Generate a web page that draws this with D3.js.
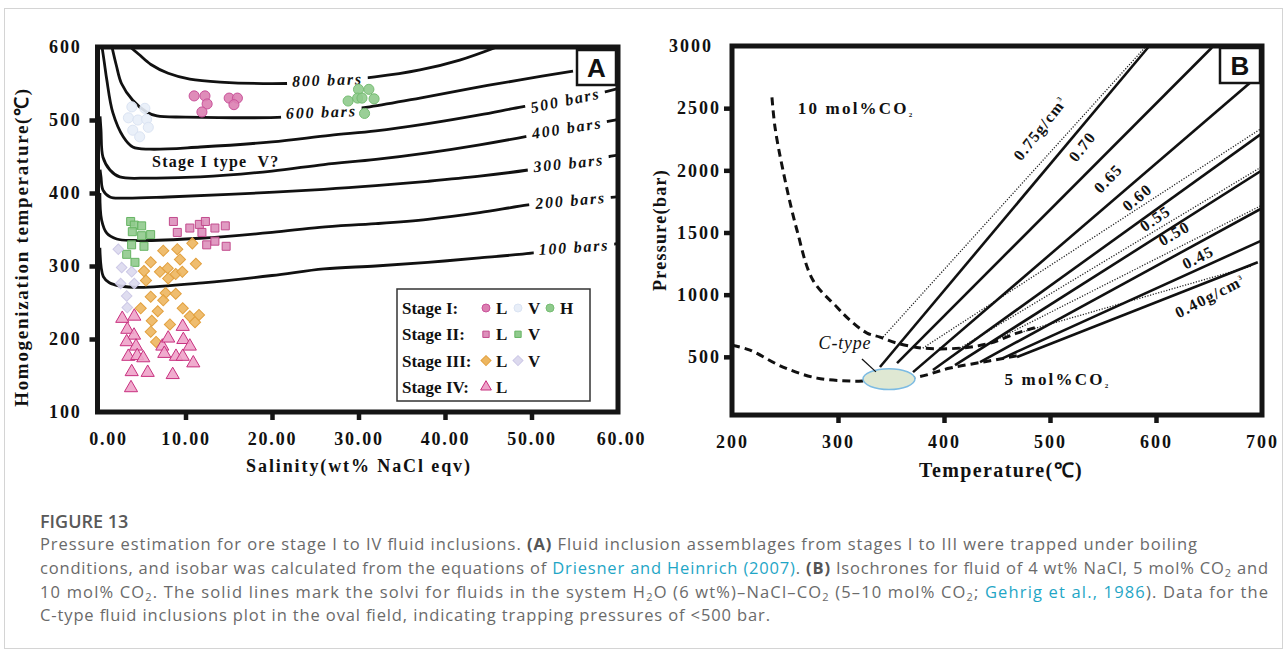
<!DOCTYPE html>
<html>
<head>
<meta charset="utf-8">
<script src="https://cdn.jsdelivr.net/npm/d3@7"></script>
<style>
  body { margin: 0; background: #fff; }
  svg { display: block; }
</style>
</head>
<body>
<svg id="fig" width="1287" height="650"></svg>
<script>
// ---------- Panel A: salinity vs homogenization temperature ----------
const salinityTicks = [0, 10, 20, 30, 40, 50, 60];
const tempTicks = [100, 200, 300, 400, 500, 600];

// isobars, [salinity wt%, temperature °C]
const isobar800 = [[3.6,600],[4.6,590],[6,576],[8,564],[10.5,556],[14,552],[21.7,550],[26,553],[31.9,559],[37.1,568.5],[41.7,582],[46,600]];
const isobar600 = [[1.5,600],[2.0,575],[2.6,550],[3.9,527],[5.5,511],[6.7,505.5],[10,504],[21.3,504],[26,510],[31.3,518],[37.1,530],[42.9,543],[48.7,555],[54.8,567]];
const isobar500 = [[0.35,600],[0.6,580],[0.9,555],[1.6,510],[2.8,477],[3.9,463],[5.9,460],[11.7,463],[20,470],[26.7,479],[32,485],[38,495],[44,507],[48.9,518],[53.9,528],[58.3,538],[60,543]];
const isobar400 = [[0.12,505],[0.23,486],[0.46,449],[1.27,431.5],[2.4,422],[5.9,420.5],[11.7,422],[20,430],[26,439],[32,446],[38,455],[44,466],[49.6,478],[54.1,489],[59.3,499],[60,501]];
const isobar300 = [[0.12,432],[0.23,422],[0.46,404],[1.27,394.5],[2.8,393],[7.9,394.5],[15,398],[26,405],[32,410],[38,416],[44,423],[49.6,431.5],[54.3,441],[59,450],[60,452]];
const isobar200 = [[0.1,400],[0.3,363],[0.9,345],[2.05,337],[3.97,335],[11.7,338],[20,346],[25.5,353],[32,358],[38,364],[44,373],[49.6,383.6],[54.5,390],[59.2,394],[60,395]];
const isobar100 = [[0.1,325],[0.5,285.4],[1.2,277],[2.43,272.6],[4.74,270.8],[12,277],[20,287],[26,296],[32,300],[38,305],[44,311],[50.2,318],[54.9,326],[59.2,329],[60,331]];
const isobarNames = ["800 bars","600 bars","500 bars","400 bars","300 bars","200 bars","100 bars"];
const isobarLines = [isobar800, isobar600, isobar500, isobar400, isobar300, isobar200, isobar100];
// where each isobar name sits on its curve: [salinity, temperature, angle]
const isobarLabelAt = [[26.4,555,-2],[25.7,511,-2],[53.9,527,-12],[54.1,489,-9],[54.3,441,-6],[54.5,390,-5],[54.9,326,-4]];

// fluid inclusions, [salinity wt% NaCl eqv, Th °C]
const stage1L = [[11.0,533],[12.25,533],[12.5,522],[11.9,511],[15.05,530],[16.0,530],[15.6,521]];
const stage1V = [[3.8,518],[5.3,516],[3.4,503],[4.5,500],[5.5,501],[3.9,486],[5.7,490],[4.7,477]];
const stage1H = [[30.0,542],[31.2,542],[28.8,526],[29.9,530],[30.4,530],[31.8,529],[30.7,509]];
const stage2L = [[8.6,361],[9.05,346],[10.5,352],[11.6,357],[12.3,361],[11.9,346],[13.4,352],[14.6,355],[12.45,329],[13.4,334],[14.7,327]];
const stage2V = [[3.66,361],[4.08,356],[4.93,355],[3.85,347],[4.93,341.5],[5.97,343],[3.77,329],[5.2,327],[3.2,316],[4.16,305]];
const stage3L = [[7.43,321],[9.05,323],[10.79,331],[5.98,305],[9.36,309],[5.2,293],[7.05,292],[7.94,297],[8.87,289],[9.63,292],[11.2,303],[5.43,280],[8.0,283],[5.98,258],[7.7,263],[8.87,262],[7.43,253],[6.79,238],[9.68,242],[4.82,242],[6.1,225],[8.2,220],[10.5,231],[11.1,223],[11.56,233],[5.98,210],[6.6,196]];
const stage3V = [[2.23,323],[2.62,298],[3.78,292],[2.5,276],[4.08,276],[3.2,259],[3.27,243]];
const stage4L = [[2.69,228],[4.08,231],[3.27,213],[4.05,205],[3.2,196],[4.28,190],[3.39,176],[4.42,177],[5.12,174],[3.78,155],[5.63,154],[3.7,133],[7.32,190],[8.0,201],[7.55,180],[8.9,176],[9.68,176],[9.68,217],[9.75,199],[10.5,190],[10.9,167],[8.52,151]];

// ---------- Panel B: temperature vs pressure ----------
const tempTicksB = [200, 300, 400, 500, 600, 700];
const pressureTicks = [500, 1000, 1500, 2000, 2500, 3000];
// solvus curves, [T °C, P bar]
const solvus10 = [[237.7,2586],[240.6,2345],[248.1,2000],[261.3,1518],[276.4,1116],[299.1,899],[311.3,795],[327.4,691],[339.6,659],[355.7,610],[380.2,570],[415,570],[443.4,610],[468.9,691],[487.7,739]];
const solvus5 = [[200,594],[217,554],[248.1,418],[280.2,329],[311.3,305],[323.6,305],[374.5,337],[405.7,410],[436.8,458],[462.3,498],[471.7,514]];
// isochores (solid), [T, P]
const isochoreSolid = [
  [[339.6,418],[592.5,2988]],
  [[355.7,450],[652.8,2988]],
  [[370.8,377],[700,2787]],
  [[389.6,394],[700,2297]],
  [[410.4,434],[700,2000]],
  [[434,458],[700,1695]],
  [[455.7,490],[700,1437]],
  [[468.9,498],[696,1261]]
];
// isochores (dotted), [T, P]
const isochoreDotted = [
  [[342.5,659],[589.6,2988]],
  [[380,570],[700,2340]],
  [[415,570],[700,2030]],
  [[443,610],[700,1720]],
  [[470,690],[690,1230]]
];
const isochoreLabels = ["0.75g/cm","0.70","0.65","0.60","0.55","0.50","0.45","0.40g/cm"];
// label anchors [T, P, angle]
const isochoreLabelAt = [[490.6,2337,-52],[530.2,2192,-52],[554.7,1935,-46],[582.1,1783,-40],[599.1,1614,-34],[617,1494,-30],[639.6,1301,-27],[650.9,988,-27]];
// C-type field: centre [T, P] and half-axes [°C, bar]
const cTypeCentre = [348.1, 321];
const cTypeRadii = [24.5, 84];
const cTypePointer = [[322.6,482],[335.8,379]];

// ---------- caption ----------
const captionTitle = "FIGURE 13";
const captionLines = [
  [["Pressure estimation for ore stage I to IV fluid inclusions. ",""],["(A)","b"],[" Fluid inclusion assemblages from stages I to III were trapped under boiling",""]],
  [["conditions, and isobar was calculated from the equations of ",""],["Driesner and Heinrich (2007)","a"],[". ",""],["(B)","b"],[" Isochrones for fluid of 4 wt% NaCl, 5 mol% CO",""],["2","s"],[" and",""]],
  [["10 mol% CO",""],["2","s"],[". The solid lines mark the solvi for fluids in the system H",""],["2","s"],["O (6 wt%)\u2013NaCl\u2013CO",""],["2","s"],[" (5\u201310 mol% CO",""],["2","s"],["; ",""],["Gehrig et al., 1986","a"],["). Data for the",""]],
  [["C-type fluid inclusions plot in the oval field, indicating trapping pressures of <500 bar.",""]]
];
const captionWidths = [1157, 1228, 1228, 730];

const SERIF = "'Liberation Serif','Times New Roman',serif";
const svg = d3.select("#fig");

// outer figure border
svg.append("rect").attr("x", 4.5).attr("y", 8.5).attr("width", 1278).attr("height", 640)
  .attr("fill", "none").attr("stroke", "#d4d4d4").attr("stroke-width", 1);

// ================= Panel A =================
const xA = d3.scaleLinear().domain([0, 60]).range([99, 618]);
const yA = d3.scaleLinear().domain([100, 600]).range([412, 47]);
const gA = svg.append("g");

svg.append("defs").append("clipPath").attr("id", "clipA")
  .append("rect").attr("x", xA(0)).attr("y", yA(600)).attr("width", xA(60) - xA(0)).attr("height", yA(100) - yA(600));

const lineA = d3.line().x(d => xA(d[0])).y(d => yA(d[1])).curve(d3.curveCatmullRom.alpha(0.5));
const isoG = gA.append("g").attr("clip-path", "url(#clipA)");
isobarLines.forEach(pts => {
  isoG.append("path").attr("d", lineA(pts)).attr("fill", "none").attr("stroke", "#111").attr("stroke-width", 2.8);
});

// isobar names with a white backing so the curve breaks around them
isobarNames.forEach((name, i) => {
  const [s, t, ang] = isobarLabelAt[i];
  const g = gA.append("g").attr("transform", `translate(${xA(s)},${yA(t)}) rotate(${ang})`);
  const bg = g.append("rect").attr("fill", "#fff");
  const tx = g.append("text").text(name).attr("text-anchor", "middle").attr("dy", "0.35em")
    .attr("font-family", SERIF).attr("font-style", "italic").attr("font-weight", "bold")
    .attr("font-size", 16).attr("letter-spacing", 1.8).attr("fill", "#111");
  const b = tx.node().getBBox();
  bg.attr("x", b.x - 5).attr("y", b.y + 2).attr("width", b.width + 10).attr("height", b.height - 4);
});

// scatter markers (diamonds are squares turned 45°)
const markerStyles = [
  { data: stage1V, type: d3.symbolCircle, size: 80, rot: 0, fill: "#e8eef8", stroke: "#dbe4f3" },
  { data: stage1L, type: d3.symbolCircle, size: 80, rot: 0, fill: "#dc7fb1", stroke: "#c9529a" },
  { data: stage1H, type: d3.symbolCircle, size: 80, rot: 0, fill: "#8fca8c", stroke: "#76bd73" },
  { data: stage2V, type: d3.symbolSquare, size: 64, rot: 0, fill: "#90ca8d", stroke: "#66b463" },
  { data: stage2L, type: d3.symbolSquare, size: 64, rot: 0, fill: "#dd90bb", stroke: "#c24b8d" },
  { data: stage3V, type: d3.symbolSquare, size: 56, rot: 45, fill: "#dcd9ee", stroke: "#cdc9e6" },
  { data: stage3L, type: d3.symbolSquare, size: 62, rot: 45, fill: "#edb65f", stroke: "#e2a03e" },
  { data: stage4L, type: d3.symbolTriangle, size: 75, rot: 0, fill: "#eea3c9", stroke: "#c8307f" }
];
markerStyles.forEach(m => {
  gA.append("g").selectAll("path").data(m.data).join("path")
    .attr("transform", d => `translate(${xA(d[0])},${yA(d[1])}) rotate(${m.rot})`)
    .attr("d", d3.symbol().type(m.type).size(m.size))
    .attr("fill", m.fill).attr("fill-opacity", 0.9)
    .attr("stroke", m.stroke).attr("stroke-width", 1);
});

gA.append("text").text("Stage I type  V?").attr("x", xA(13.5)).attr("y", yA(435)).attr("text-anchor", "middle")
  .attr("font-family", SERIF).attr("font-weight", "bold").attr("font-size", 16).attr("letter-spacing", 1.2)
  .attr("xml:space", "preserve").style("white-space", "pre").attr("fill", "#111");

// legend
const legendRows = [
  { label: "Stage I:", items: [[1, "L"], [0, "V"], [2, "H"]] },
  { label: "Stage II:", items: [[4, "L"], [3, "V"]] },
  { label: "Stage III:", items: [[6, "L"], [5, "V"]] },
  { label: "Stage IV:", items: [[7, "L"]] }
];
gA.append("rect").attr("x", 397).attr("y", 289).attr("width", 193).attr("height", 112)
  .attr("fill", "#fff").attr("stroke", "#333").attr("stroke-width", 1.5);
legendRows.forEach((row, i) => {
  const y = 308 + i * 26.3;
  gA.append("text").text(row.label).attr("x", 402).attr("y", y).attr("dy", "0.35em")
    .attr("font-family", SERIF).attr("font-weight", "bold").attr("font-size", 17).attr("fill", "#111");
  row.items.forEach((it, j) => {
    const st = markerStyles[it[0]];
    const mx = 486 + j * 32;
    gA.append("path").attr("transform", `translate(${mx},${y}) rotate(${st.rot})`)
      .attr("d", d3.symbol().type(st.type).size(i === 1 ? 40 : 50))
      .attr("fill", st.fill).attr("stroke", st.stroke).attr("stroke-width", 1);
    gA.append("text").text(it[1]).attr("x", mx + 10).attr("y", y).attr("dy", "0.35em")
      .attr("font-family", SERIF).attr("font-weight", "bold").attr("font-size", 17).attr("fill", "#111");
  });
});

// frame, ticks and tick labels
gA.append("rect").attr("x", xA(0) - 1.5).attr("y", yA(600)).attr("width", xA(60) - xA(0) + 1.5).attr("height", yA(100) - yA(600))
  .attr("fill", "none").attr("stroke", "#151515").attr("stroke-width", 5);
const axA_x = gA.append("g").attr("transform", `translate(0,${yA(100)})`)
  .call(d3.axisBottom(xA).tickValues(salinityTicks).tickFormat(d3.format(".2f")).tickSize(8).tickPadding(8));
const axA_y = gA.append("g").attr("transform", `translate(${xA(0) - 1.5},0)`)
  .call(d3.axisLeft(yA).tickValues(tempTicks).tickFormat(d3.format("d")).tickSize(8).tickPadding(8));
[axA_x, axA_y].forEach(ax => {
  ax.select(".domain").remove();
  ax.selectAll(".tick line").attr("stroke", "#151515").attr("stroke-width", 4.5);
  ax.selectAll(".tick text").attr("font-family", SERIF).attr("font-weight", "bold").attr("font-size", 18)
    .attr("letter-spacing", 1.8).attr("fill", "#111");
});
axA_x.selectAll(".tick").filter(d => d === 0 || d === 60).select("line").remove();
axA_y.selectAll(".tick").filter(d => d === 100 || d === 600).select("line").remove();
axA_x.selectAll(".tick").filter(d => d === 0).select("text").attr("dx", 9);
axA_x.selectAll(".tick").filter(d => d === 60).select("text").attr("dx", 3);
axA_x.selectAll(".tick text").attr("dy", "0.95em");

// panel letter
gA.append("rect").attr("x", 577).attr("y", 50).attr("width", 39).attr("height", 35)
  .attr("fill", "#fff").attr("stroke", "#151515").attr("stroke-width", 2.5);
gA.append("text").text("A").attr("x", 596.5).attr("y", 77).attr("text-anchor", "middle")
  .attr("font-family", "'Liberation Sans',Arial,sans-serif").attr("font-weight", "bold").attr("font-size", 26).attr("fill", "#111");

// axis titles
gA.append("text").text("Salinity(wt% NaCl eqv)").attr("x", 359).attr("y", 472).attr("text-anchor", "middle")
  .attr("font-family", SERIF).attr("font-weight", "bold").attr("font-size", 18).attr("letter-spacing", 1.9).attr("fill", "#111");
gA.append("text").text("Homogenization temperature(\u2103)").attr("transform", "translate(28,247) rotate(-90)")
  .attr("text-anchor", "middle").attr("font-family", SERIF).attr("font-weight", "bold").attr("font-size", 19)
  .attr("letter-spacing", 1.7).attr("fill", "#111");

// ================= Panel B =================
const xB = d3.scaleLinear().domain([200, 700]).range([732, 1262]);
const yB = d3.scaleLinear().domain([0, 3000]).range([419, 46]);
const pBottom = 32;
const gB = svg.append("g");
svg.select("defs").append("clipPath").attr("id", "clipB")
  .append("rect").attr("x", xB(200)).attr("y", yB(3000)).attr("width", xB(700) - xB(200)).attr("height", yB(pBottom) - yB(3000));

const lineB = d3.line().x(d => xB(d[0])).y(d => yB(d[1])).curve(d3.curveCatmullRom.alpha(0.5));
const lgB = gB.append("g").attr("clip-path", "url(#clipB)");
isochoreDotted.forEach(pts => {
  lgB.append("path").attr("d", lineB(pts)).attr("fill", "none").attr("stroke", "#222")
    .attr("stroke-width", 1.3).attr("stroke-dasharray", "1.2 1.6");
});
isochoreSolid.forEach(pts => {
  lgB.append("path").attr("d", lineB(pts)).attr("fill", "none").attr("stroke", "#111").attr("stroke-width", 2.6);
});
[solvus10, solvus5].forEach(pts => {
  lgB.append("path").attr("d", lineB(pts)).attr("fill", "none").attr("stroke", "#111")
    .attr("stroke-width", 3).attr("stroke-dasharray", "8 5");
});

// C-type field
lgB.append("ellipse").attr("cx", xB(cTypeCentre[0])).attr("cy", yB(cTypeCentre[1]))
  .attr("rx", xB(cTypeCentre[0] + cTypeRadii[0]) - xB(cTypeCentre[0]))
  .attr("ry", yB(cTypeCentre[1] - cTypeRadii[1]) - yB(cTypeCentre[1]))
  .attr("fill", "#dfe8d3").attr("stroke", "#7cbbe3").attr("stroke-width", 1.5);
gB.append("line").attr("x1", xB(cTypePointer[0][0])).attr("y1", yB(cTypePointer[0][1]))
  .attr("x2", xB(cTypePointer[1][0])).attr("y2", yB(cTypePointer[1][1])).attr("stroke", "#111").attr("stroke-width", 1.3);
gB.append("text").text("C-type").attr("x", xB(306.6)).attr("y", yB(610)).attr("dy", "0.35em").attr("text-anchor", "middle")
  .attr("font-family", SERIF).attr("font-style", "italic").attr("font-size", 18).attr("letter-spacing", 0.8).attr("fill", "#111");

// isochore labels
isochoreLabels.forEach((lab, i) => {
  const [t, p, ang] = isochoreLabelAt[i];
  const tx = gB.append("text").attr("transform", `translate(${xB(t)},${yB(p)}) rotate(${ang})`)
    .attr("text-anchor", "middle").attr("dy", "0.35em")
    .attr("font-family", SERIF).attr("font-weight", "bold").attr("font-size", 16).attr("letter-spacing", 1.3).attr("fill", "#111");
  tx.append("tspan").text(lab);
  if (lab.endsWith("cm")) tx.append("tspan").text("3").attr("font-size", 7).attr("dy", "-0.9em");
});

// CO2 composition labels
function co2Label(x, y, pre) {
  const t = gB.append("text").attr("x", x).attr("y", y)
    .attr("font-family", SERIF).attr("font-weight", "bold").attr("font-size", 17).attr("letter-spacing", 2.2).attr("fill", "#111");
  t.append("tspan").text(pre);
  t.append("tspan").text("2").attr("font-size", 7).attr("dy", 3);
}
co2Label(xB(262), yB(2450), "10 mol%CO");
co2Label(xB(457), yB(270), "5 mol%CO");

// frame, ticks, labels
gB.append("rect").attr("x", xB(200)).attr("y", yB(3000)).attr("width", xB(700) - xB(200)).attr("height", yB(pBottom) - yB(3000))
  .attr("fill", "none").attr("stroke", "#151515").attr("stroke-width", 5);
const axB_x = gB.append("g").attr("transform", `translate(0,${yB(pBottom)})`)
  .call(d3.axisBottom(xB).tickValues(tempTicksB).tickFormat(d3.format("d")).tickSize(8).tickPadding(8));
const axB_y = gB.append("g").attr("transform", `translate(${xB(200)},0)`)
  .call(d3.axisLeft(yB).tickValues(pressureTicks).tickFormat(d3.format("d")).tickSize(8).tickPadding(3));
[axB_x, axB_y].forEach(ax => {
  ax.select(".domain").remove();
  ax.selectAll(".tick line").attr("stroke", "#151515").attr("stroke-width", 4.5);
  ax.selectAll(".tick text").attr("font-family", SERIF).attr("font-weight", "bold").attr("font-size", 18)
    .attr("letter-spacing", 2).attr("fill", "#111");
});
axB_x.selectAll(".tick").filter(d => d === 200 || d === 700).select("line").remove();
axB_y.selectAll(".tick").filter(d => d === 3000).select("line").remove();
axB_x.selectAll(".tick text").attr("dy", "0.95em");
axB_y.selectAll(".tick").filter(d => d === 3000).select("text").attr("dx", -8);

gB.append("rect").attr("x", 1220).attr("y", 48).attr("width", 40).attr("height", 35)
  .attr("fill", "#fff").attr("stroke", "#151515").attr("stroke-width", 2.5);
gB.append("text").text("B").attr("x", 1240).attr("y", 75).attr("text-anchor", "middle")
  .attr("font-family", "'Liberation Sans',Arial,sans-serif").attr("font-weight", "bold").attr("font-size", 26).attr("fill", "#111");

gB.append("text").text("Temperature(\u2103)").attr("x", 1001).attr("y", 477).attr("text-anchor", "middle")
  .attr("font-family", SERIF).attr("font-weight", "bold").attr("font-size", 20).attr("letter-spacing", 1.4).attr("fill", "#111");
gB.append("text").text("Pressure(bar)").attr("transform", "translate(666,230) rotate(-90)").attr("text-anchor", "middle")
  .attr("font-family", SERIF).attr("font-weight", "bold").attr("font-size", 18).attr("letter-spacing", 1.3).attr("fill", "#111");

// ================= caption =================
const SANS = "'Open Sans','Noto Sans',sans-serif";
svg.append("text").text(captionTitle).attr("x", 40).attr("y", 528)
  .attr("font-family", SANS).attr("font-weight", 600).attr("font-size", 18).attr("fill", "#595959");
captionLines.forEach((parts, i) => {
  const t = svg.append("text").attr("x", 40).attr("y", 550 + i * 23.8)
    .attr("font-family", SANS).attr("font-size", 16.5).attr("fill", "#6a6a6a")
    .attr("textLength", captionWidths[i]).attr("lengthAdjust", "spacing");
  let sub = false;
  parts.forEach(([str, kind]) => {
    const sp = t.append("tspan").text(str);
    if (kind === "b") sp.attr("font-weight", 700).attr("fill", "#555");
    if (kind === "a") sp.attr("fill", "#1fa6c6");
    if (kind === "s") { sp.attr("font-size", 11).attr("dy", 3); sub = true; }
    else if (sub) { sp.attr("dy", -3); sub = false; }
  });
});
</script>
</body>
</html>
